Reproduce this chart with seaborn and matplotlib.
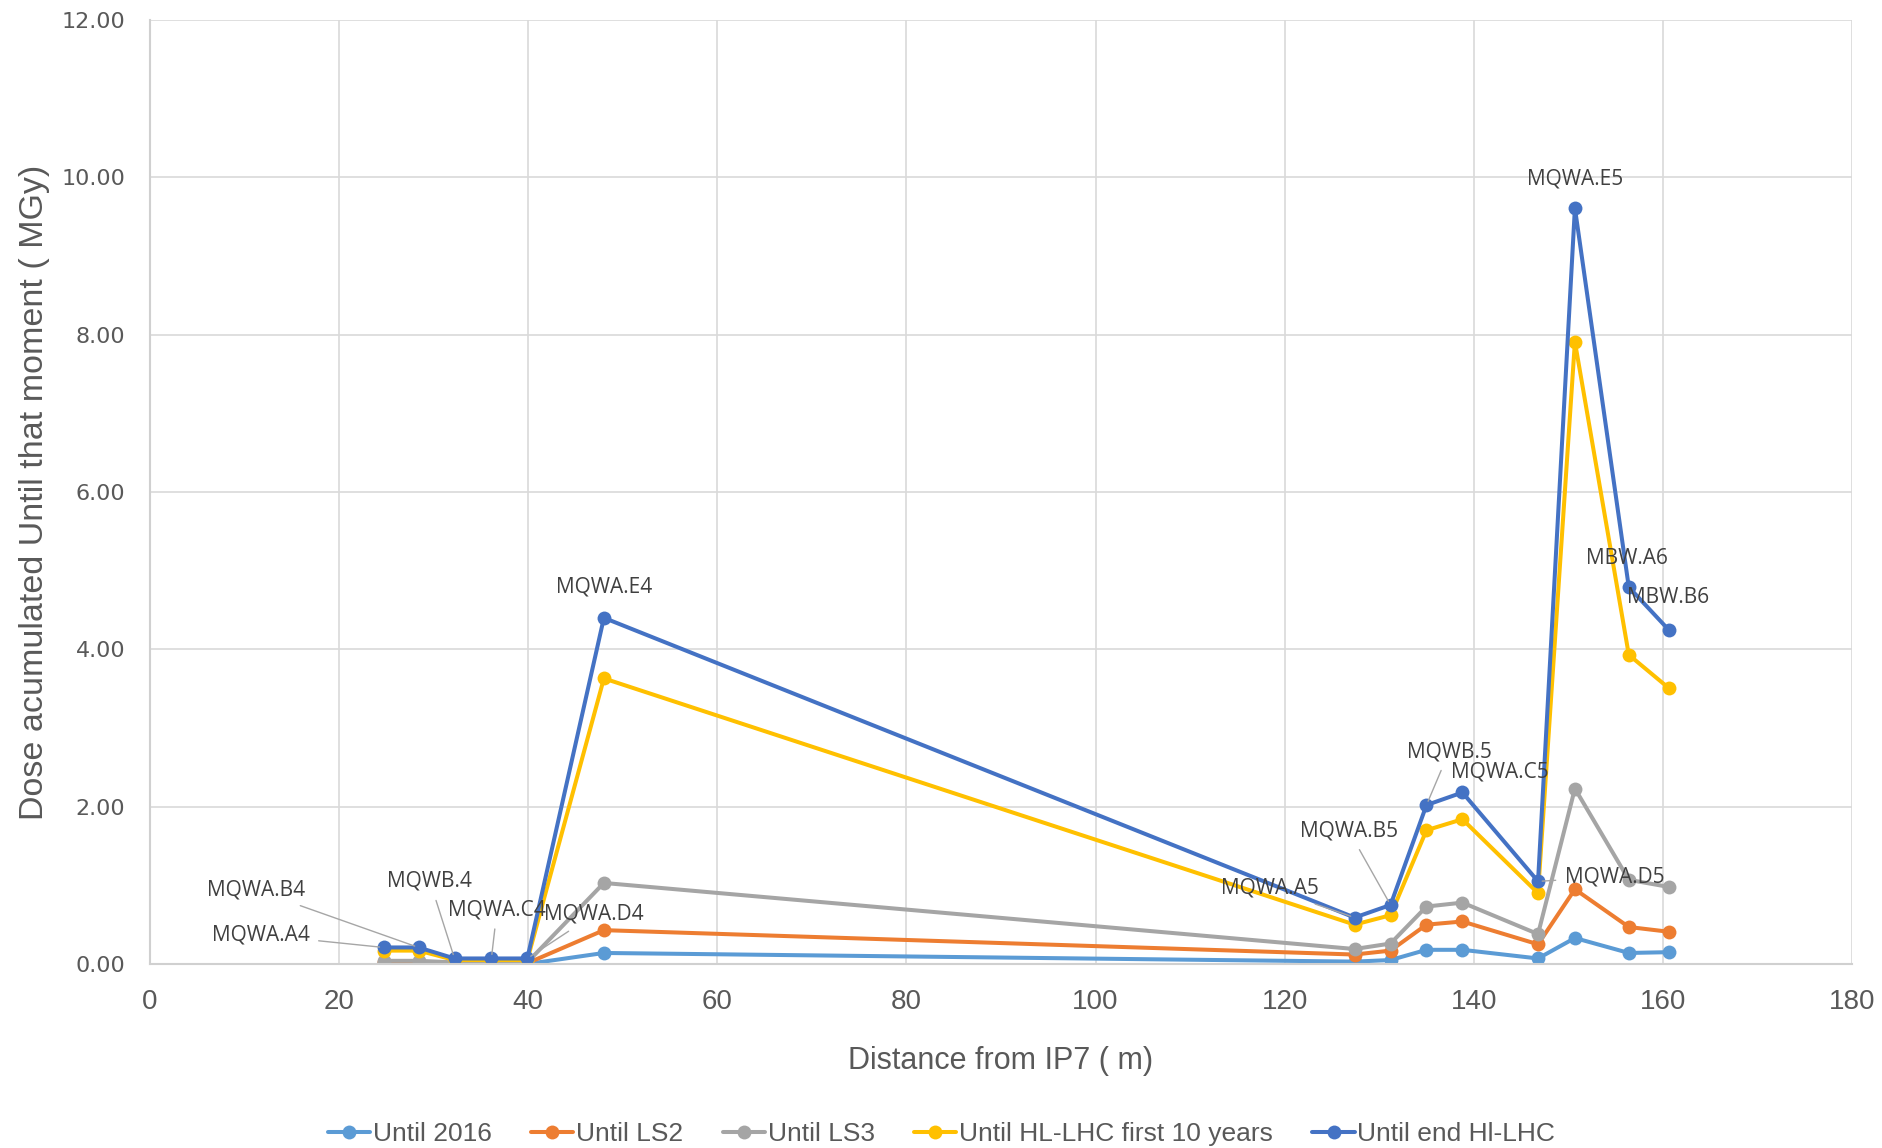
import matplotlib
matplotlib.use("Agg")
import matplotlib.pyplot as plt
import seaborn as sns
import pandas as pd

# Distance from IP7 (m) of each element
distance = [24.7, 28.4, 32.2, 36.1, 39.9, 48.0, 127.4, 131.2, 135.0, 138.8, 146.8, 150.7, 156.4, 160.6]
elements = ["MQWA.A4", "MQWA.B4", "MQWB.4", "MQWA.C4", "MQWA.D4", "MQWA.E4",
            "MQWA.A5", "MQWA.B5", "MQWB.5", "MQWA.C5", "MQWA.D5", "MQWA.E5",
            "MBW.A6", "MBW.B6"]

# Accumulated dose (MGy) per scenario
until_2016 = [0.01, 0.01, 0.00, 0.00, 0.00, 0.14, 0.03, 0.05, 0.18, 0.18, 0.07, 0.33, 0.14, 0.15]
until_ls2 = [0.02, 0.02, 0.01, 0.01, 0.01, 0.43, 0.12, 0.17, 0.50, 0.54, 0.25, 0.95, 0.47, 0.41]
until_ls3 = [0.04, 0.04, 0.02, 0.02, 0.02, 1.03, 0.19, 0.26, 0.73, 0.78, 0.38, 2.23, 1.07, 0.98]
until_hl_10y = [0.17, 0.17, 0.05, 0.05, 0.05, 3.63, 0.50, 0.62, 1.70, 1.84, 0.90, 7.91, 3.93, 3.51]
until_end_hl = [0.21, 0.21, 0.07, 0.07, 0.07, 4.40, 0.59, 0.75, 2.02, 2.18, 1.05, 9.61, 4.79, 4.25]

series_names = ["Until 2016", "Until LS2", "Until LS3",
                "Until HL-LHC first 10 years", "Until end Hl-LHC"]
series_values = [until_2016, until_ls2, until_ls3, until_hl_10y, until_end_hl]
colors = ["#5B9BD5", "#ED7D31", "#A5A5A5", "#FFC000", "#4472C4"]

rows = []
for name, vals in zip(series_names, series_values):
    for x, v in zip(distance, vals):
        rows.append({"distance": x, "dose": v, "series": name})
df = pd.DataFrame(rows)

sns.set_theme(style="white")
plt.rcParams["font.family"] = ["Liberation Sans", "DejaVu Sans"]

fig = plt.figure(figsize=(18.83, 11.48), dpi=100)
ax = fig.add_axes([0.0797, 0.1603, 0.9038, 0.8223])

sns.lineplot(data=df, x="distance", y="dose", hue="series", hue_order=series_names,
             palette=dict(zip(series_names, colors)), marker="o", markersize=10,
             markeredgewidth=0, linewidth=2.9, sort=False, estimator=None, ax=ax)

ax.set_xlim(0, 180)
ax.set_ylim(0, 12)
ax.set_xticks(range(0, 181, 20))
ax.set_yticks(range(0, 13, 2))
ax.set_yticklabels([f"{v:.2f}" for v in range(0, 13, 2)], family="DejaVu Sans",
                   fontsize=16, color="#595959")
ax.tick_params(axis="x", labelsize=20, labelcolor="#595959", pad=18, length=0)
ax.tick_params(axis="y", pad=18, length=0)
ax.grid(True, color="#D9D9D9", linewidth=1.2)
for side in ["top", "right"]:
    ax.spines[side].set_visible(False)
for side in ["left", "bottom"]:
    ax.spines[side].set_color("#D0D0D0")
    ax.spines[side].set_linewidth(1.5)

ax.set_xlabel("Distance from IP7 ( m)", fontsize=22, color="#595959", labelpad=22)
ax.set_ylabel("Dose acumulated Until that moment ( MGy)", fontsize=24.5, color="#595959",
              labelpad=8)

# Element labels on the end-of-HL-LHC series: (text x, text y, alignment, leader)
label_layout = [
    (16.9, 0.37, "right", True),
    (16.4, 0.94, "right", True),
    (29.6, 1.05, "center", True),
    (36.7, 0.69, "center", True),
    (41.7, 0.63, "left", True),
    (48.0, 4.79, "center", False),
    (123.6, 0.96, "right", True),
    (126.8, 1.69, "center", True),
    (137.4, 2.70, "center", True),
    (142.8, 2.44, "center", False),
    (149.6, 1.11, "left", True),
    (150.7, 9.98, "center", False),
    (156.2, 5.16, "center", False),
    (160.6, 4.66, "center", False),
]
for name, px, py, (tx, ty, ha, leader) in zip(elements, distance, until_end_hl, label_layout):
    if leader:
        ax.annotate(name, xy=(px, py), xytext=(tx, ty), ha=ha, va="center",
                    fontsize=15, color="#404040", family=["Open Sans", "DejaVu Sans"],
                    arrowprops=dict(arrowstyle="-", color="#A6A6A6", lw=1.0,
                                    shrinkA=4, shrinkB=3))
    else:
        ax.text(tx, ty, name, ha=ha, va="center", fontsize=15, color="#404040",
                family=["Open Sans", "DejaVu Sans"])

sns.move_legend(ax, "center", bbox_to_anchor=(0.5, 0.012), bbox_transform=fig.transFigure,
                ncol=5, frameon=False, title=None, fontsize=19, handlelength=1.6,
                handletextpad=0.1, columnspacing=1.5, labelcolor="#595959")

fig.savefig("out.png", dpi=100)
